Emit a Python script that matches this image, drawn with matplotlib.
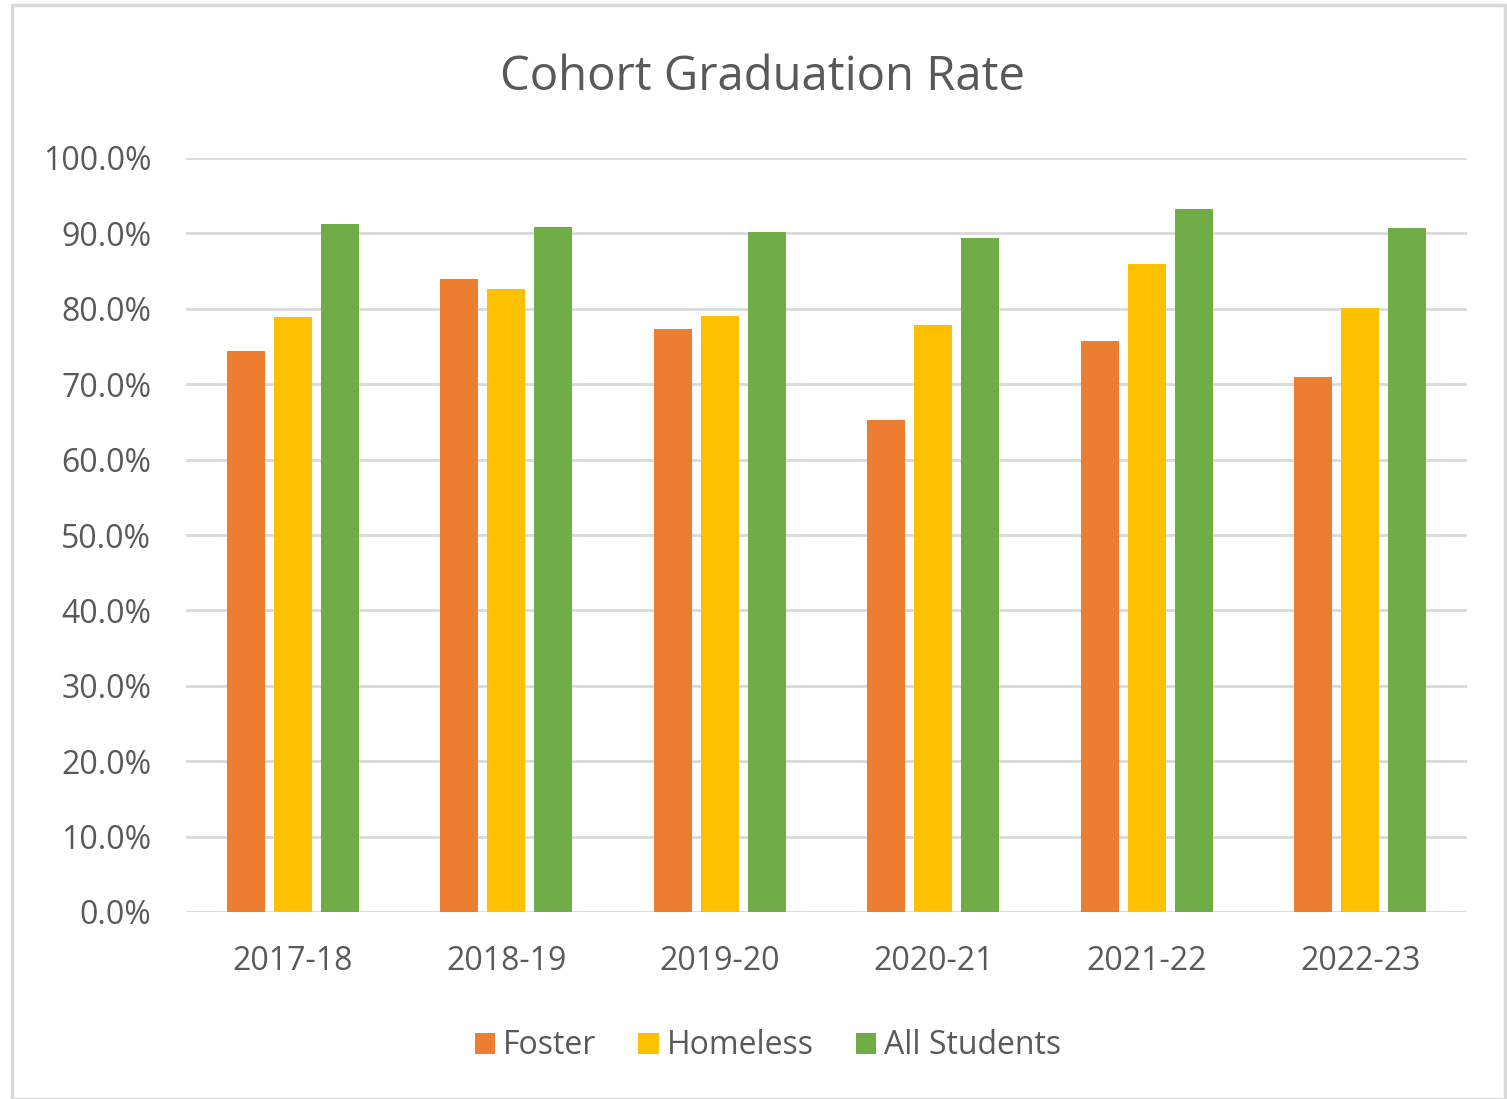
import matplotlib.pyplot as plt
import numpy as np
from matplotlib.patches import Rectangle
from matplotlib.ticker import PercentFormatter

years = ['2017-18', '2018-19', '2019-20', '2020-21', '2021-22', '2022-23']
foster = [74.4, 83.9, 77.3, 65.2, 75.7, 71.0]
homeless = [78.9, 82.6, 79.1, 77.9, 86.0, 80.1]
all_students = [91.3, 90.8, 90.2, 89.4, 93.2, 90.7]

series = [('Foster', foster, '#ED7D31'),
          ('Homeless', homeless, '#FFC000'),
          ('All Students', all_students, '#70AD47')]

plt.rcParams['font.family'] = ['Open Sans', 'DejaVu Sans']
text_color = '#595959'

W, H = 1507, 1099
fig = plt.figure(figsize=(W / 100, H / 100), dpi=100)

# outer chart border
fig.patches.append(Rectangle((12 / W, 0), (W - 14) / W, (H - 5) / H,
                             transform=fig.transFigure, fill=False,
                             edgecolor='#d9d9d9', linewidth=2.5))

ax = fig.add_axes([186 / W, 1 - 912 / H, (1467 - 186) / W, (912 - 158) / H])

x = np.arange(len(years))
width = 0.178
step = 0.22
for i, (name, vals, col) in enumerate(series):
    ax.bar(x + (i - 1) * step, vals, width, color=col, label=name, zorder=3)

ax.set_xlim(-0.5, len(years) - 0.5)
ax.set_ylim(0, 100)
ax.set_yticks(np.arange(0, 101, 10))
ax.yaxis.set_major_formatter(PercentFormatter(decimals=1))
ax.set_xticks(x)
ax.set_xticklabels(years)
ax.grid(axis='y', color='#d9d9d9', linewidth=2, zorder=0)
for s in ax.spines.values():
    s.set_visible(False)
ax.tick_params(axis='both', length=0, labelsize=23, colors=text_color)
ax.tick_params(axis='y', pad=25)
ax.tick_params(axis='x', pad=24)

fig.text(763 / W, 1 - 77 / H, 'Cohort Graduation Rate', ha='center', va='center',
         fontsize=34, color=text_color)

leg = fig.legend(loc='center', bbox_to_anchor=(768 / W, 1 - 1046 / H), ncol=3,
                 frameon=False, fontsize=23, handlelength=0.65, handleheight=0.65,
                 handletextpad=0.25, columnspacing=1.3)
for t in leg.get_texts():
    t.set_color(text_color)

fig.savefig('out.png', dpi=100)
